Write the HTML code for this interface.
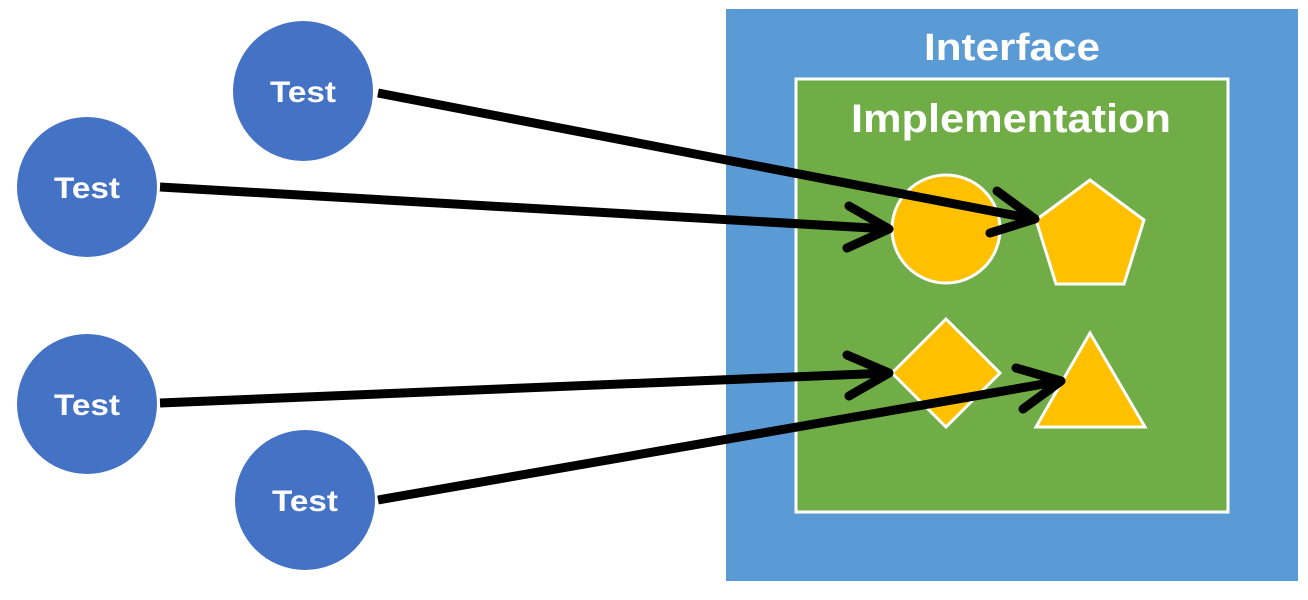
<!DOCTYPE html>
<html><head><meta charset="utf-8"><style>
html,body{margin:0;padding:0;background:#fff;}
svg{display:block;}
text{font-family:"Liberation Sans",sans-serif;font-weight:bold;fill:#fff;}
</style></head><body>
<svg width="1308" height="600" viewBox="0 0 1308 600" xmlns="http://www.w3.org/2000/svg">
<rect x="726" y="9" width="572" height="572" fill="#5b9bd5"/>
<text x="1012" y="60" font-size="38" text-anchor="middle" textLength="176" lengthAdjust="spacingAndGlyphs">Interface</text>
<rect x="796" y="79" width="432" height="433" fill="#70ad47" stroke="#fff" stroke-width="3"/>
<text x="1011" y="132" font-size="40" text-anchor="middle" textLength="320" lengthAdjust="spacingAndGlyphs">Implementation</text>
<g fill="#ffc000" stroke="#fff" stroke-width="3">
<circle cx="946" cy="229" r="54"/>
<polygon points="1090,180 1144,220 1124,284 1056,284 1036,220"/>
<polygon points="946,319 1000,373 946,427 892,373"/>
<polygon points="1090,333 1145,427 1036,427"/>
</g>
<g fill="#4472c4">
<circle cx="303" cy="91" r="70"/>
<circle cx="87" cy="187" r="70"/>
<circle cx="87" cy="404" r="70"/>
<circle cx="305" cy="500" r="70"/>
</g>
<g font-size="30" text-anchor="middle">
<text x="303" y="102" textLength="66" lengthAdjust="spacingAndGlyphs">Test</text>
<text x="87" y="198" textLength="66" lengthAdjust="spacingAndGlyphs">Test</text>
<text x="87" y="415" textLength="66" lengthAdjust="spacingAndGlyphs">Test</text>
<text x="305" y="511" textLength="66" lengthAdjust="spacingAndGlyphs">Test</text>
</g>
<g stroke="#000" stroke-width="9" fill="none" stroke-linecap="round" stroke-linejoin="round">
<line x1="378" y1="93" x2="1033" y2="219" stroke-linecap="butt"/>
<polyline points="997,191 1035,219 990,233"/>
<line x1="160" y1="187" x2="889" y2="229" stroke-linecap="butt"/>
<polyline points="849,206 889,229 847,248"/>
<line x1="160" y1="403" x2="889" y2="373" stroke-linecap="butt"/>
<polyline points="847,355 889,373 849,396"/>
<line x1="378" y1="500" x2="1061" y2="381" stroke-linecap="butt"/>
<polyline points="1016,368 1061,381 1023,409"/>
</g>
</svg>
</body></html>
